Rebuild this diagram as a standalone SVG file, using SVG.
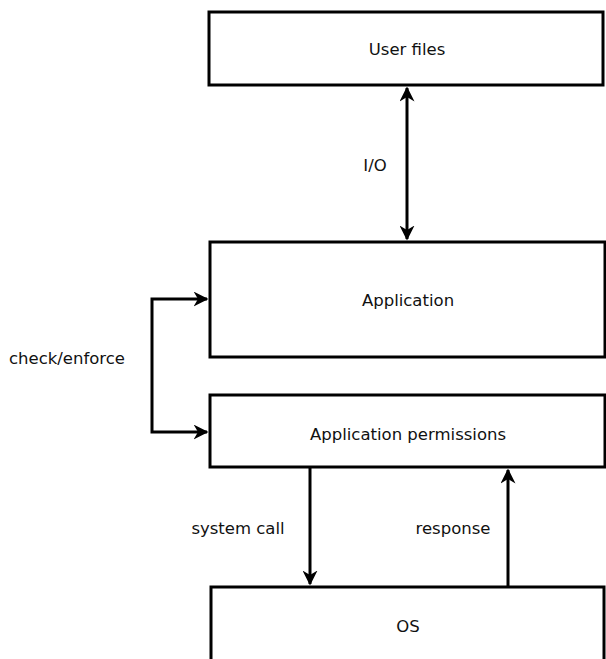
<svg xmlns="http://www.w3.org/2000/svg" width="606" height="659" viewBox="0 0 606 659">
<style>
.box{fill:#fff;stroke:#000;stroke-width:3}
.lbl{font-family:"DejaVu Sans",Tahoma,sans-serif;font-size:16.5px;fill:#111;text-anchor:middle}
.con{fill:none;stroke:#000;stroke-width:3}
</style>
<defs>
<marker id="ah" viewBox="0 0 10 10" refX="9" refY="5" markerWidth="5" markerHeight="5" orient="auto-start-reverse" markerUnits="strokeWidth">
<path d="M0,0 L10,5 L0,10 L3,5 z" fill="#000"/>
</marker>
</defs>
<rect width="606" height="659" fill="#fff"/>
<g id="user-files"><rect class="box" x="209" y="12" width="394" height="73"/><text class="lbl" x="407" y="55">User files</text></g>
<g id="application"><rect class="box" x="210" y="242" width="395" height="115"/><text class="lbl" x="408" y="306">Application</text></g>
<g id="app-permissions"><rect class="box" x="210" y="395" width="395" height="72"/><text class="lbl" x="408" y="440">Application permissions</text></g>
<g id="os"><rect class="box" x="211" y="587" width="393" height="80"/><text class="lbl" x="408" y="632">OS</text></g>
<g id="connectors">
<line class="con" x1="407" y1="88" x2="407" y2="239" marker-start="url(#ah)" marker-end="url(#ah)"/>
<path class="con" d="M207,299 H152 V432 H207" marker-start="url(#ah)" marker-end="url(#ah)"/>
<line class="con" x1="310" y1="468" x2="310" y2="584" marker-end="url(#ah)"/>
<line class="con" x1="508" y1="587" x2="508" y2="470" marker-end="url(#ah)"/>
<text class="lbl" x="375" y="171">I/O</text>
<text class="lbl" x="67" y="364">check/enforce</text>
<text class="lbl" x="238" y="534">system call</text>
<text class="lbl" x="453" y="534">response</text>
</g>
</svg>
